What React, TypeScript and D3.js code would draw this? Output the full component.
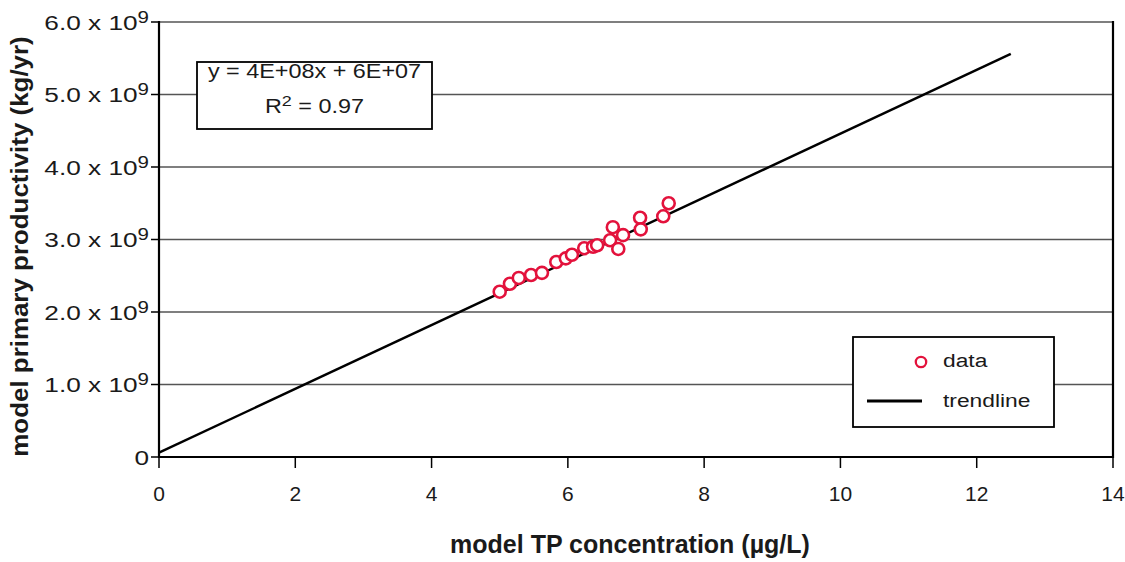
import React from "react";
import * as d3 from "d3";

// model TP concentration (ug/L) vs model primary productivity (kg/yr)
const tpValues = [5.0, 5.15, 5.28, 5.46, 5.62, 5.83, 5.97, 6.06, 6.24, 6.37, 6.43, 6.62, 6.66, 6.81, 6.74, 7.06, 7.07, 7.4, 7.48];
const ppValues = [2.28e9, 2.39e9, 2.47e9, 2.51e9, 2.54e9, 2.69e9, 2.74e9, 2.79e9, 2.88e9, 2.9e9, 2.92e9, 2.99e9, 3.17e9, 3.06e9, 2.87e9, 3.3e9, 3.14e9, 3.32e9, 3.5e9];

// fitted trendline
const trendSlope = 4.4e8;
const trendIntercept = 6e7;
const trendRange = [0, 12.5];

const xTicks = [0, 2, 4, 6, 8, 10, 12, 14];
const yTicks = [0, 1, 2, 3, 4, 5, 6];

const width = 1125;
const height = 562;
const margin = { top: 22, right: 12, bottom: 105, left: 159 };
const font = "'Liberation Sans', Arial, sans-serif";
const red = "#e3123c";
const ink = "#1a1a1a";

const App: React.FC = () => {
  const x = d3.scaleLinear().domain([0, 14]).range([margin.left, width - margin.right]);
  const y = d3.scaleLinear().domain([0, 6e9]).range([height - margin.bottom, margin.top]);

  const points = tpValues.map((v, i) => ({ tp: v, pp: ppValues[i] }));
  const trend = trendRange.map((t) => [t, trendSlope * t + trendIntercept] as [number, number]);
  const line = d3.line<[number, number]>().x((d) => x(d[0])).y((d) => y(d[1]));

  const x0 = x(0);
  const x1 = x(14);
  const yb = y(0);

  return (
    <svg width={width} height={height} style={{ position: "absolute", left: 0, top: 0, background: "#fff" }} fontFamily={font}>
      {/* gridlines */}
      {yTicks.filter((t) => t > 0).map((t) => (
        <line key={t} x1={x0} x2={x1} y1={y(t * 1e9)} y2={y(t * 1e9)} stroke="#555" strokeWidth={1.5} />
      ))}

      {/* axes */}
      <line x1={x0} x2={x0} y1={y(6e9) - 1} y2={yb + 1} stroke="#000" strokeWidth={2.2} />
      <line x1={x1} x2={x1} y1={y(6e9) - 1} y2={yb + 1} stroke="#000" strokeWidth={2.2} />
      <line x1={x0} x2={x1} y1={yb} y2={yb} stroke="#000" strokeWidth={2.2} />

      {yTicks.map((t) => (
        <g key={t} transform={`translate(0,${y(t * 1e9)})`}>
          <line x1={x0 - 8} x2={x0} stroke="#000" strokeWidth={1.5} />
          <text transform={`translate(${x0 - 10},0) scale(1.28,1)`} dy="0.38em" textAnchor="end" fontSize={20.5} fill={ink}>
            {t === 0 ? "0" : `${t.toFixed(1)} x 10`}
            {t === 0 ? null : <tspan fontSize={16} dy="-0.45em">9</tspan>}
          </text>
        </g>
      ))}

      {xTicks.map((t) => (
        <g key={t} transform={`translate(${x(t)},0)`}>
          <line y1={yb} y2={yb + 11} stroke="#000" strokeWidth={1.5} />
          <text y={yb + 44} textAnchor="middle" fontSize={21} fill={ink}>{t}</text>
        </g>
      ))}

      {/* trendline */}
      <path d={line(trend) ?? ""} fill="none" stroke="#000" strokeWidth={2.4} />

      {/* data */}
      {points.map((p, i) => (
        <circle key={i} cx={x(p.tp)} cy={y(p.pp)} r={6} fill="#fff" stroke={red} strokeWidth={2.6} />
      ))}

      {/* equation box */}
      <rect x={197} y={62} width={235} height={67} fill="#fff" stroke="#000" strokeWidth={1.8} />
      <text transform="translate(314.5,78) scale(1.2,1)" textAnchor="middle" fontSize={19.5} fill={ink}>y = 4E+08x + 6E+07</text>
      <text transform="translate(314.5,113) scale(1.2,1)" textAnchor="middle" fontSize={19.5} fill={ink}>
        R<tspan fontSize={15} dy="-0.5em">2</tspan>
        <tspan dy="0.4em"> = 0.97</tspan>
      </text>

      {/* legend */}
      <rect x={853} y={337} width={201} height={90} fill="#fff" stroke="#000" strokeWidth={1.8} />
      <circle cx={921} cy={362} r={5.2} fill="#fff" stroke={red} strokeWidth={2.3} />
      <text transform="translate(943,367) scale(1.2,1)" fontSize={19} fill={ink}>data</text>
      <line x1={867} x2={922} y1={401} y2={401} stroke="#000" strokeWidth={3} />
      <text transform="translate(943,407) scale(1.2,1)" fontSize={19} fill={ink}>trendline</text>

      {/* axis titles */}
      <text x={630} y={553} textAnchor="middle" fontSize={25} fontWeight="bold" fill={ink}>
        model TP concentration (µg/L)
      </text>
      <text transform={`translate(28,${(y(6e9) + yb) / 2 + 7}) rotate(-90) scale(1.08,1)`} textAnchor="middle" fontSize={24} fontWeight="bold" fill={ink}>
        model primary productivity (kg/yr)
      </text>
    </svg>
  );
};

export default App;
